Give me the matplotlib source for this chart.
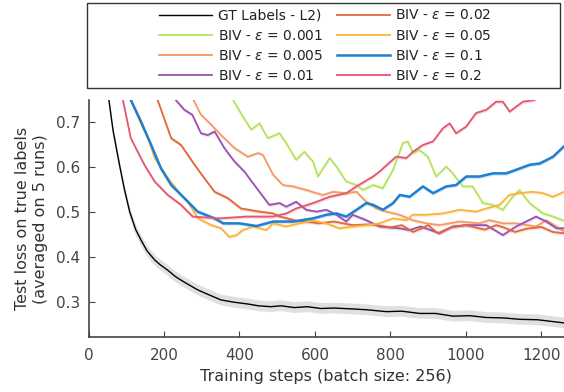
import numpy as np
import matplotlib
matplotlib.use('Agg')
import matplotlib.pyplot as plt
from matplotlib.patches import Rectangle

# ---- data (steps, loss) ----
gt_steps = [0, 20, 40, 52, 65, 82, 95, 109, 125, 139, 155, 175, 190, 210, 230, 245, 265,
            290, 320, 351, 385, 422, 450, 483, 510, 546, 580, 616, 650, 700, 740, 789,
            830, 878, 920, 966, 1010, 1054, 1100, 1142, 1190, 1230, 1260]
gt_loss = [1.25, 1.05, 0.86, 0.76, 0.68, 0.604, 0.55, 0.50, 0.46, 0.437, 0.413, 0.393,
           0.382, 0.370, 0.356, 0.348, 0.338, 0.326, 0.315, 0.304, 0.299, 0.295, 0.291,
           0.289, 0.291, 0.287, 0.289, 0.285, 0.286, 0.284, 0.282, 0.278, 0.279, 0.274,
           0.274, 0.268, 0.269, 0.265, 0.264, 0.261, 0.260, 0.256, 0.253]
gt_band = 0.012

eps_labels = ['0.001', '0.005', '0.01', '0.02', '0.05', '0.1', '0.2']

s_001 = [300, 383, 409, 431, 453, 475, 506, 524, 550, 572, 595, 608, 639, 657, 683, 710,
         727, 754, 780, 807, 833, 846, 860, 877, 899, 921, 948, 965, 992, 1018, 1045,
         1072, 1098, 1124, 1142, 1169, 1204, 1231, 1260]
v_001 = [0.95, 0.748, 0.711, 0.682, 0.696, 0.663, 0.674, 0.652, 0.615, 0.633, 0.611, 0.578,
         0.619, 0.600, 0.567, 0.559, 0.548, 0.559, 0.552, 0.593, 0.652, 0.656, 0.630, 0.637,
         0.622, 0.578, 0.600, 0.585, 0.556, 0.556, 0.519, 0.515, 0.504, 0.533, 0.548,
         0.519, 0.496, 0.489, 0.480]

s_005 = [200, 278, 298, 325, 351, 387, 422, 449, 462, 489, 515, 542, 577, 604, 621, 648,
         683, 710, 736, 763, 789, 824, 859, 895, 930, 983, 1036, 1062, 1098, 1133, 1186,
         1213, 1240, 1260]
v_005 = [0.95, 0.748, 0.715, 0.693, 0.670, 0.641, 0.622, 0.630, 0.626, 0.582, 0.559, 0.556,
         0.548, 0.541, 0.537, 0.544, 0.541, 0.544, 0.522, 0.507, 0.500, 0.493, 0.481, 0.474,
         0.470, 0.478, 0.474, 0.481, 0.474, 0.474, 0.467, 0.481, 0.467, 0.456]

s_01 = [160, 231, 254, 275, 298, 316, 334, 360, 387, 413, 426, 453, 479, 506, 524, 550,
        577, 604, 630, 657, 683, 700, 736, 771, 824, 850, 880, 930, 965, 1000, 1054,
        1098, 1133, 1186, 1213, 1240, 1260]
v_01 = [0.95, 0.748, 0.726, 0.715, 0.674, 0.670, 0.678, 0.641, 0.611, 0.589, 0.574, 0.544,
        0.515, 0.519, 0.511, 0.522, 0.504, 0.500, 0.504, 0.493, 0.478, 0.493, 0.481, 0.467,
        0.463, 0.459, 0.467, 0.452, 0.467, 0.470, 0.470, 0.448, 0.467, 0.489, 0.478,
        0.463, 0.463]

s_02 = [120, 183, 200, 219, 245, 263, 281, 307, 334, 369, 404, 453, 489, 507, 550, 577,
        610, 650, 700, 750, 800, 830, 860, 880, 900, 925, 960, 1000, 1050, 1080, 1100,
        1130, 1160, 1200, 1230, 1260]
v_02 = [0.95, 0.748, 0.708, 0.663, 0.648, 0.626, 0.604, 0.574, 0.544, 0.530, 0.507, 0.500,
        0.496, 0.489, 0.480, 0.478, 0.474, 0.478, 0.470, 0.472, 0.465, 0.470, 0.455, 0.462,
        0.470, 0.452, 0.465, 0.470, 0.460, 0.470, 0.465, 0.455, 0.462, 0.466, 0.455, 0.452]

s_05 = [60, 112, 139, 161, 175, 210, 245, 263, 290, 325, 351, 373, 392, 409, 436, 471,
        489, 524, 559, 595, 630, 665, 701, 736, 771, 807, 842, 859, 895, 939, 983, 1027,
        1054, 1089, 1115, 1142, 1177, 1204, 1231, 1260]
v_05 = [0.95, 0.748, 0.695, 0.656, 0.619, 0.575, 0.537, 0.522, 0.485, 0.470, 0.463, 0.444,
        0.448, 0.459, 0.467, 0.459, 0.474, 0.467, 0.474, 0.480, 0.474, 0.463, 0.467, 0.470,
        0.474, 0.485, 0.481, 0.493, 0.493, 0.496, 0.504, 0.500, 0.507, 0.515, 0.537,
        0.541, 0.544, 0.541, 0.533, 0.544]

s_1 = [60, 112, 139, 166, 192, 219, 254, 289, 334, 357, 400, 445, 489, 542, 595, 630,
       657, 683, 710, 736, 754, 780, 807, 825, 851, 886, 913, 948, 974, 1001, 1036, 1072,
       1107, 1133, 1169, 1196, 1231, 1260]
v_1 = [0.95, 0.748, 0.700, 0.648, 0.596, 0.559, 0.530, 0.500, 0.485, 0.474, 0.474, 0.468,
       0.478, 0.478, 0.485, 0.493, 0.496, 0.489, 0.504, 0.519, 0.515, 0.504, 0.519, 0.537,
       0.533, 0.556, 0.541, 0.556, 0.559, 0.578, 0.578, 0.585, 0.585, 0.593, 0.604,
       0.607, 0.622, 0.645]

s_2 = [40, 91, 112, 148, 175, 210, 245, 276, 347, 418, 488, 524, 550, 595, 639, 683, 710,
       754, 771, 815, 842, 860, 886, 913, 939, 957, 974, 1001, 1027, 1054, 1080, 1098,
       1116, 1133, 1151, 1182]
v_2 = [0.95, 0.748, 0.663, 0.604, 0.567, 0.537, 0.515, 0.489, 0.485, 0.489, 0.489, 0.496,
       0.507, 0.519, 0.533, 0.541, 0.556, 0.578, 0.589, 0.622, 0.619, 0.633, 0.648, 0.656,
       0.685, 0.696, 0.674, 0.689, 0.719, 0.726, 0.744, 0.744, 0.722, 0.733, 0.744, 0.748]

series = [(s_001, v_001), (s_005, v_005), (s_01, v_01), (s_02, v_02),
          (s_05, v_05), (s_1, v_1), (s_2, v_2)]
colors = ['#b5e35c', '#f59a66', '#9a52b2', '#e2673a', '#f7b43e', '#1f7fd0', '#e5566f']
widths = [1.3, 1.3, 1.3, 1.3, 1.3, 1.8, 1.3]

fig = plt.figure(figsize=(5.64, 3.92), dpi=100)
ax = fig.add_axes([0.157, 0.1395, 0.843, 0.6055])

ax.fill_between(gt_steps, np.array(gt_loss) - gt_band, np.array(gt_loss) + gt_band,
                color='#d9d9d9', alpha=0.8, lw=0)
h_gt, = ax.plot(gt_steps, gt_loss, color='black', lw=1.0)

handles = [h_gt]
labels = ['GT Labels - L2)']
for (s, v), c, w, e in zip(series, colors, widths, eps_labels):
    v = np.array(v)
    ax.fill_between(s, v - 0.004, v + 0.004, color=c, alpha=0.2, lw=0)
    h, = ax.plot(s, v, color=c, lw=w)
    handles.append(h)
    labels.append(r'BIV - $\epsilon$ = ' + e)

ax.set_xlim(0, 1260)
ax.set_ylim(0.221, 0.748)
ax.set_xticks([0, 200, 400, 600, 800, 1000, 1200])
ax.set_yticks([0.3, 0.4, 0.5, 0.6, 0.7])
ax.spines['top'].set_visible(False)
ax.spines['right'].set_visible(False)
for sp in ['left', 'bottom']:
    ax.spines[sp].set_color('#444444')
    ax.spines[sp].set_linewidth(1.2)
ax.tick_params(direction='in', length=4, color='#444444', labelcolor='#444444',
               labelsize=11, pad=6)
ax.tick_params(axis='x', pad=8)
ax.set_xlabel('Training steps (batch size: 256)', fontsize=11.5, color='#333333', labelpad=4)
ax.set_ylabel('Test loss on true labels\n(averaged on 5 runs)', fontsize=11.5,
              color='#333333', labelpad=6)

# legend: two columns, boxed frame above the axes
leg = fig.legend(handles, labels,
                 loc='center', bbox_to_anchor=(0.577, 0.883), ncol=2, frameon=False,
                 fontsize=10, handlelength=3.8, handletextpad=0.4, columnspacing=1.0,
                 labelspacing=0.45)
for t in leg.get_texts():
    t.set_color('#222222')
fig.patches.append(Rectangle((87 / 564, 1 - 88 / 392), (560 - 87) / 564, (88 - 3) / 392,
                             transform=fig.transFigure, fill=False, edgecolor='#333333',
                             lw=1.0))

fig.savefig('out.png', dpi=100)
